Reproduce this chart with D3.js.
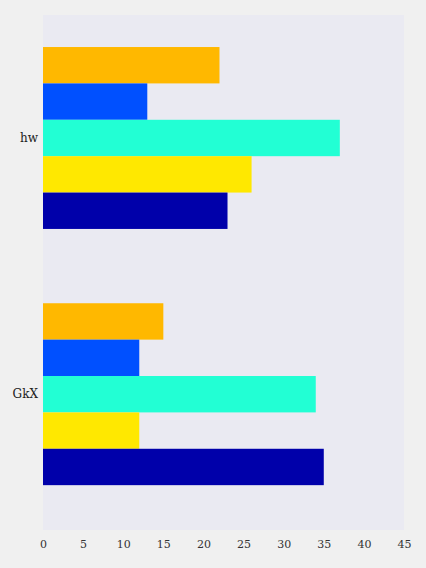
<!DOCTYPE html>
<html>
<head>
<meta charset="utf-8">
<script src="https://cdn.jsdelivr.net/npm/d3@7"></script>
<style>
  body { margin: 0; background: #f0f0f0; }
  svg { display: block; }
</style>
</head>
<body>
<div id="chart"></div>
<script>
// categories, top to bottom
var categories = ["hw", "GkX"];
// series, top bar of each group first
var seriesNames = ["s1", "s2", "s3", "s4", "s5"];
var seriesColors = ["#ffb800", "#0050ff", "#22ffd4", "#ffe800", "#0000aa"];
var values = [
  [22, 15],
  [13, 12],
  [37, 34],
  [26, 12],
  [23, 35]
];
var xTicks = [0, 5, 10, 15, 20, 25, 30, 35, 40, 45];

window.w = 426;
window.h = 568;
var margin = {top: 15, right: 22, bottom: 38, left: 43};

const chart = d3.select("#chart")
  .append("svg")
  .attr("width", w)
  .attr("height", h);

var xScale = d3.scaleLinear()
  .domain([0, 45])
  .range([margin.left, w - margin.right]);

// category index -> y, bar groups are 0.71 wide around each index
var yScale = d3.scaleLinear()
  .domain([-0.48, 1.53])
  .range([margin.top, h - margin.bottom]);

var barW = 0.142;

chart.append("rect")
  .attr("x", margin.left)
  .attr("y", margin.top)
  .attr("width", w - margin.left - margin.right)
  .attr("height", h - margin.top - margin.bottom)
  .attr("fill", "#eaeaf2");

seriesNames.forEach(function(name, s) {
  chart.append("g")
    .selectAll("rect")
    .data(values[s])
    .enter()
    .append("rect")
    .attr("x", xScale(0))
    .attr("y", function(d, i) { return yScale(i - 2.5 * barW + s * barW); })
    .attr("width", function(d) { return xScale(d) - xScale(0); })
    .attr("height", yScale(barW) - yScale(0))
    .attr("fill", seriesColors[s]);
});

var xAxis = d3.axisBottom(xScale)
  .tickValues(xTicks)
  .tickSize(0)
  .tickPadding(10);

var gx = chart.append("g")
  .attr("transform", "translate(0," + (h - margin.bottom) + ")")
  .call(xAxis);
gx.select(".domain").remove();
gx.selectAll("text")
  .attr("font-family", "DejaVu Serif")
  .attr("font-size", 11)
  .attr("fill", "#333");

chart.append("g")
  .selectAll("text")
  .data(categories)
  .enter()
  .append("text")
  .attr("x", margin.left - 5)
  .attr("y", function(d, i) { return yScale(i); })
  .attr("dy", "0.35em")
  .attr("text-anchor", "end")
  .attr("font-family", "DejaVu Serif")
  .attr("font-size", 12)
  .attr("fill", "#222")
  .text(function(d) { return d; });
</script>
</body>
</html>
